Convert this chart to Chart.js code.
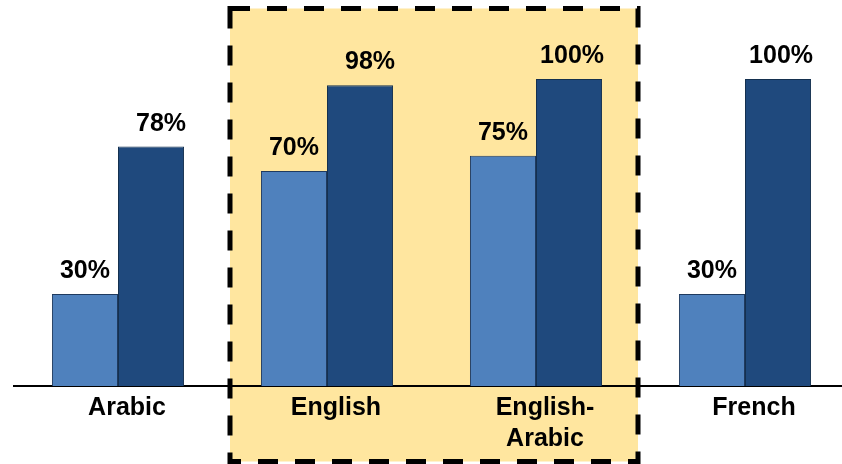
<!DOCTYPE html>
<html>
<head>
<meta charset="utf-8">
<script src="https://cdn.jsdelivr.net/npm/chart.js@4/dist/chart.umd.min.js"></script>
<style>
  html, body { margin: 0; padding: 0; background: #ffffff; overflow: hidden; }
  #wrap { width: 852px; height: 464px; }
</style>
</head>
<body>
<div id="wrap"><canvas id="c" width="852" height="464"></canvas></div>
<script>
const categories = [["Arabic"], ["English"], ["English-", "Arabic"], ["French"]];
const seriesA = [30, 70, 75, 30];
const seriesB = [78, 98, 100, 100];
const yTicks = [0, 100];
const highlighted = [1, 2];

const FONT = "'Liberation Sans', Arial, sans-serif";

function boxRect(chart) {
  const x = chart.scales.x;
  return {
    left: x.getPixelForValue(highlighted[0]) - 97,
    right: x.getPixelForValue(highlighted[1]) + 102,
    top: 8.5,
    bottom: 461.5
  };
}

const highlightPlugin = {
  id: 'highlight',
  beforeDraw(chart) {
    const r = boxRect(chart);
    const ctx = chart.ctx;
    ctx.save();
    ctx.fillStyle = '#FFE69F';
    ctx.fillRect(r.left, r.top, r.right - r.left, r.bottom - r.top);
    ctx.restore();
  },
  afterDraw(chart) {
    const r = boxRect(chart);
    const ctx = chart.ctx;
    ctx.save();
    ctx.strokeStyle = '#000000';
    ctx.lineWidth = 5;
    ctx.setLineDash([20, 17]);
    ctx.strokeRect(r.left, r.top, r.right - r.left, r.bottom - r.top);
    ctx.restore();
  }
};

const valueLabels = {
  id: 'valueLabels',
  afterDatasetsDraw(chart) {
    const ctx = chart.ctx;
    ctx.save();
    ctx.font = "bold 25px " + FONT;
    ctx.fillStyle = '#000000';
    ctx.textBaseline = 'alphabetic';
    chart.data.datasets.forEach((ds, di) => {
      const meta = chart.getDatasetMeta(di);
      meta.data.forEach((bar, i) => {
        const txt = ds.data[i] + '%';
        if (di === 0) {
          ctx.textAlign = 'center';
          ctx.fillText(txt, bar.x, bar.y - 16);
        } else {
          ctx.textAlign = 'right';
          ctx.fillText(txt, bar.x + bar.width / 2 + 2, bar.y - 16);
        }
      });
    });
    ctx.restore();
  }
};

new Chart(document.getElementById('c'), {
  type: 'bar',
  data: {
    labels: categories,
    datasets: [
      { data: seriesA, backgroundColor: '#4F81BD', borderColor: '#1F3A5F', borderWidth: 1 },
      { data: seriesB, backgroundColor: '#1F497D', borderColor: '#14304F', borderWidth: 1 }
    ]
  },
  options: {
    responsive: false,
    animation: false,
    devicePixelRatio: 1,
    layout: { padding: { left: 13.5, right: 2.5, top: 79, bottom: 0 } },
    datasets: { bar: { categoryPercentage: 0.632, barPercentage: 1.0 } },
    plugins: { legend: { display: false }, tooltip: { enabled: false } },
    scales: {
      x: {
        grid: { display: false, drawTicks: false },
        border: { display: true, color: '#000000', width: 2 },
        ticks: {
          color: '#000000',
          font: { family: FONT, size: 25, weight: 'bold', lineHeight: 1.24 },
          padding: 7,
          labelOffset: 9,
          maxRotation: 0,
          autoSkip: false
        },
        afterFit(s) { s.height = 78; }
      },
      y: {
        display: false,
        min: yTicks[0],
        max: yTicks[1]
      }
    }
  },
  plugins: [highlightPlugin, valueLabels]
});
</script>
</body>
</html>
